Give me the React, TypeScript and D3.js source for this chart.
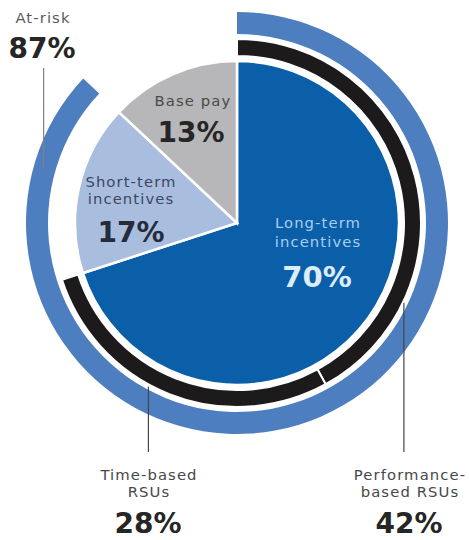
import React from "react";
import * as d3 from "d3";

const pieNames = ["Long-term incentives", "Short-term incentives", "Base pay"];
const pieValues = [70, 17, 13];
const pieColors = ["#0b5fa8", "#a9bddf", "#b7b7b9"];

const rsuNames = ["Performance-based RSUs", "Time-based RSUs"];
const rsuValues = [42, 28];

const atRiskLabel = "At-risk";
const atRiskValue = 87;

const W = 469;
const H = 540;
const cx = 237;
const cy = 223;
const rPie = 162;
const rBlackIn = 167;
const rBlackOut = 184;
const rRingIn = 189;
const rRingOut = 211;

const FONT = "DejaVu Sans, sans-serif";
const LBL = 14.8;
const LS = 1.1;
const PCT = 28;

export default function App() {
  const total = d3.sum(pieValues);
  const angle = d3.scaleLinear().domain([0, total]).range([0, 2 * Math.PI]);

  const pieGen = d3.pie<number>().sort(null).value((d) => d);
  const slices = pieGen(pieValues);
  const arcPie = d3.arc<any>().innerRadius(0).outerRadius(rPie);

  let acc = 0;
  const rsuArcs = rsuValues.map((v) => {
    const a0 = angle(acc);
    acc += v;
    const a1 = angle(acc);
    return { startAngle: a0, endAngle: a1 };
  });
  const arcBlack = d3.arc<any>().innerRadius(rBlackIn).outerRadius(rBlackOut);
  const arcRing = d3.arc<any>().innerRadius(rRingIn).outerRadius(rRingOut);

  const polar = (a: number, r: number) => [cx + r * Math.sin(a), cy - r * Math.cos(a)];

  const perfPt = polar(angle(32.1), rBlackOut + 1);
  const timePt = polar(angle(57.9), rBlackOut + 2);
  const riskPt = polar(angle(79.4), 201);

  const lineColor = "#444";
  const labelColor = "#474747";
  const pctColor = "#262626";

  const Label = (p: { x: number; y: number; fill: string; children: React.ReactNode; size?: number }) => (
    <text
      x={p.x}
      y={p.y}
      textAnchor="middle"
      fontFamily={FONT}
      fontSize={p.size ?? LBL}
      letterSpacing={LS}
      fill={p.fill}
    >
      {p.children}
    </text>
  );

  return (
    <svg width={W} height={H} style={{ position: "absolute", left: 0, top: 0 }}>
      <rect width={W} height={H} fill="#fff" />
      <g transform={`translate(${cx},${cy})`}>
        {slices.map((s, i) => (
          <path key={i} d={arcPie(s) as string} fill={pieColors[i]} stroke="#fff" strokeWidth={2.5} />
        ))}
        {rsuArcs.map((a, i) => (
          <path key={i} d={arcBlack(a) as string} fill="#1d1a1b" stroke="#fff" strokeWidth={2} />
        ))}
        <path d={arcRing({ startAngle: 0, endAngle: angle(atRiskValue) }) as string} fill="#4d7fc0" />
      </g>

      <line x1={perfPt[0]} y1={perfPt[1]} x2={perfPt[0]} y2={452} stroke={lineColor} strokeWidth={1.2} />
      <line x1={timePt[0]} y1={timePt[1]} x2={timePt[0]} y2={452} stroke={lineColor} strokeWidth={1.2} />
      <line x1={riskPt[0]} y1={68} x2={riskPt[0]} y2={riskPt[1]} stroke="#808080" strokeWidth={1.2} />

      <Label x={43} y={23} fill="#5a5a5a">{atRiskLabel}</Label>
      <text x={42} y={58} textAnchor="middle" fontFamily={FONT} fontSize={PCT} fontWeight="bold" fill={pctColor}>{atRiskValue}%</text>

      <Label x={193} y={106} fill="#4a4a4a">{pieNames[2]}</Label>
      <text x={191} y={142} textAnchor="middle" fontFamily={FONT} fontSize={PCT} fontWeight="bold" fill={pctColor}>{pieValues[2]}%</text>

      <Label x={131} y={187} fill="#3b4762">Short-term</Label>
      <Label x={131} y={204} fill="#3b4762">incentives</Label>
      <text x={131} y={242} textAnchor="middle" fontFamily={FONT} fontSize={PCT} fontWeight="bold" fill="#252b3a">{pieValues[1]}%</text>

      <Label x={318} y={228} fill="#a9cdf0">Long-term</Label>
      <Label x={318} y={247} fill="#a9cdf0">incentives</Label>
      <text x={317} y={287} textAnchor="middle" fontFamily={FONT} fontSize={29} fontWeight="bold" fill="#dcecfb">{pieValues[0]}%</text>

      <Label x={149} y={480} fill={labelColor}>Time-based</Label>
      <Label x={149} y={497} fill={labelColor}>RSUs</Label>
      <text x={148} y={533} textAnchor="middle" fontFamily={FONT} fontSize={PCT} fontWeight="bold" fill={pctColor}>{rsuValues[1]}%</text>

      <Label x={410} y={480} fill={labelColor}>Performance-</Label>
      <Label x={410} y={497} fill={labelColor}>based RSUs</Label>
      <text x={409} y={533} textAnchor="middle" fontFamily={FONT} fontSize={PCT} fontWeight="bold" fill={pctColor}>{rsuValues[0]}%</text>
    </svg>
  );
}
